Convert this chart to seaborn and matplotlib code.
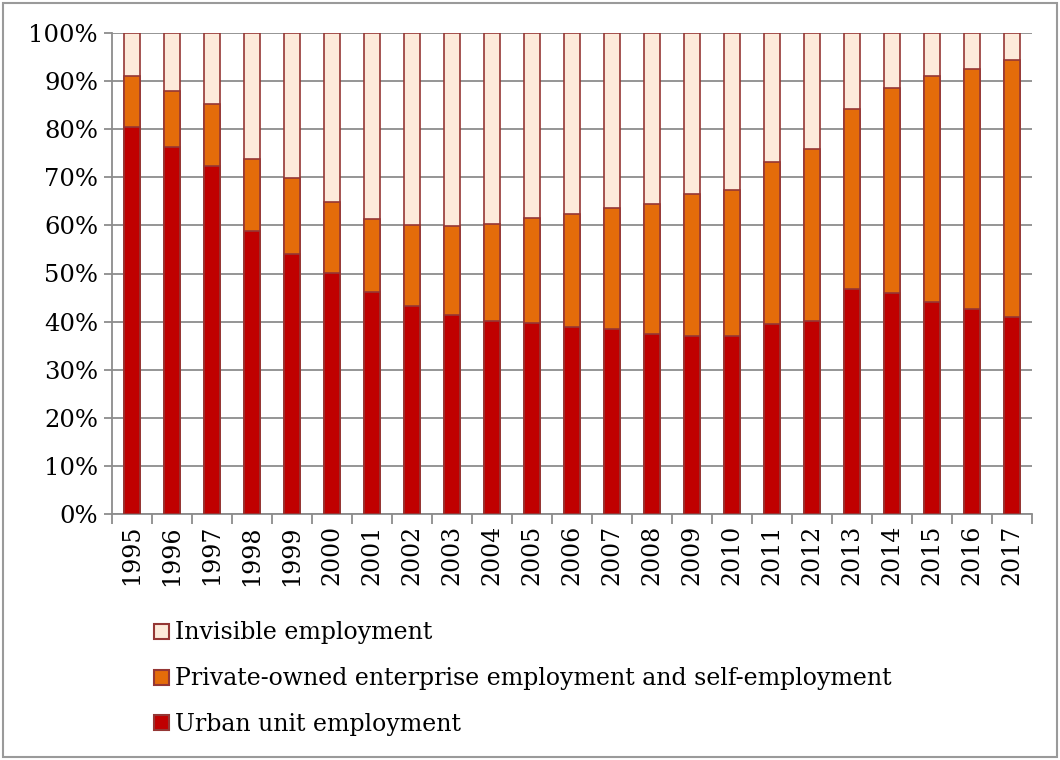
import matplotlib
matplotlib.use("Agg")
import matplotlib.pyplot as plt
import seaborn as sns
import pandas as pd
from matplotlib.patches import Rectangle, Patch
from matplotlib.ticker import PercentFormatter, MultipleLocator, FixedLocator

# Employment structure, share of total (%)
years = [str(y) for y in range(1995, 2018)]
urban_unit = [80.5, 76.3, 72.3, 58.8, 54.1, 50.1, 46.2, 43.2, 41.4, 40.1, 39.7, 38.9,
              38.5, 37.4, 37.1, 37.0, 39.5, 40.2, 46.7, 46.0, 44.1, 42.7, 41.0]
private_self = [10.6, 11.6, 12.9, 15.0, 15.8, 14.8, 15.1, 16.9, 18.5, 20.2, 21.8, 23.5,
                25.1, 27.0, 29.4, 30.4, 33.7, 35.6, 37.6, 42.6, 47.0, 49.8, 53.3]
invisible = [8.9, 12.1, 14.8, 26.2, 30.1, 35.1, 38.7, 39.9, 40.1, 39.7, 38.5, 37.6,
             36.4, 35.6, 33.5, 32.6, 26.8, 24.2, 15.7, 11.4, 8.9, 7.5, 5.7]

labels = ["Invisible employment",
          "Private-owned enterprise employment and self-employment",
          "Urban unit employment"]
colors = ["#FDEADA", "#E46C0A", "#C00000"]
edge = "#953735"
grid_col = "#8C8C8C"

df = pd.DataFrame({"year": years, "urban": urban_unit,
                   "private": private_self, "invisible": invisible})
df["top_private"] = df["urban"] + df["private"]
df["top_all"] = df["top_private"] + df["invisible"]

sns.set_theme(style="white")
plt.rcParams["font.family"] = ["DejaVu Serif"]
plt.rcParams["text.color"] = "black"

fig = plt.figure(figsize=(10.6, 7.6), dpi=100)
ax = fig.add_axes([112 / 1060, 1 - 514 / 760, 920 / 1060, 481 / 760])

# Stacked bars: draw cumulative totals from the top layer down
for col, c in zip(["top_all", "top_private", "urban"], colors):
    sns.barplot(data=df, x="year", y=col, color=c, edgecolor=edge, linewidth=1.2,
                width=0.42, saturation=1, ax=ax, zorder=3)

ax.set_xlim(-0.5, len(years) - 0.5)
ax.set_ylim(0, 100)
ax.yaxis.set_major_locator(MultipleLocator(10))
ax.yaxis.set_major_formatter(PercentFormatter(decimals=0))
ax.set_xlabel("")
ax.set_ylabel("")
ax.yaxis.grid(True, color=grid_col, linewidth=1.3, zorder=0)
ax.set_axisbelow(True)

for side in ["top", "right"]:
    ax.spines[side].set_visible(False)
for side in ["left", "bottom"]:
    ax.spines[side].set_color(grid_col)
    ax.spines[side].set_linewidth(1.3)

ax.tick_params(axis="y", which="major", length=6, width=1.3, color=grid_col,
               labelsize=17.5, pad=4, left=True, labelcolor="black")
ax.tick_params(axis="x", which="major", length=0, labelsize=17, pad=8,
               labelrotation=90, labelcolor="black")
ax.xaxis.set_minor_locator(FixedLocator([i - 0.5 for i in range(len(years) + 1)]))
ax.tick_params(axis="x", which="minor", length=7, width=1.3, color=grid_col,
               bottom=True, direction="out")

handles = [Patch(facecolor=c, edgecolor=edge, linewidth=1.5) for c in colors]
fig.legend(handles, labels, loc="upper left", bbox_to_anchor=(145 / 1060, 1 - 612 / 760),
           frameon=False, fontsize=17, handlelength=0.6, handleheight=0.6,
           handletextpad=0.25, labelspacing=0.97, borderaxespad=0,
           labelcolor="black")

fig.patches.append(Rectangle((3 / 1060, 3 / 760), 1 - 6 / 1060, 1 - 6 / 760,
                             transform=fig.transFigure, fill=False,
                             edgecolor="#9A9A9A", linewidth=1.5))

fig.savefig("out.png", dpi=100)
